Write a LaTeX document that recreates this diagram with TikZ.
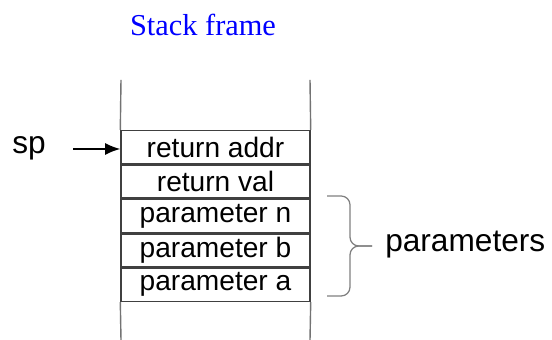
\documentclass[tikz,border=0pt]{standalone}
\usepackage{fontspec}
\setmainfont{Liberation Serif}
\setsansfont{Liberation Sans}
\usepackage{xcolor}
\usetikzlibrary{positioning,arrows.meta}

\tikzset{
  slot/.style={draw=black!75, line width=1pt, rectangle, minimum width=4.725cm,
    minimum height=0.825cm, inner sep=0pt, font=\sffamily\fontsize{20}{24}\selectfont},
  rail/.style={draw=black!55, line width=1pt},
  lbl/.style={font=\sffamily\fontsize{22.5}{27}\selectfont, inner sep=0pt},
  curly/.style={draw=black!50, line width=0.9pt, rounded corners=0.22cm}
}

\begin{document}
\begin{tikzpicture}
      \useasboundingbox (0,0) rectangle (13.8,8.5);

      \coordinate (Top) at (5.3875, 5.25);
      \coordinate (Raill) at (3.025, 6.5);
      \coordinate (Railr) at (7.75, 6.5);
      \coordinate (Raillb) at (3.025, 0);
      \coordinate (Railrb) at (7.75, 0);
      \coordinate (Braces) at (8.175, 3.6);
      \coordinate (Bracee) at (8.175, 1.1);
      \coordinate (Bracem) at (8.75, 2.35);
      \coordinate (Tip) at (9.3, 2.35);

      % title
      \node[font=\fontsize{21.6}{26}\selectfont, text=blue] (title) at (5.075, 7.875) {Stack frame};

      % the frame slots, top down
      \node[slot, anchor=north] (retaddr) at (Top) {return addr};
      \node[slot, below=0pt of retaddr] (retval) {return val};
      \node[slot, below=0pt of retval] (parn) {parameter n};
      \node[slot, below=0pt of parn] (parb) {parameter b};
      \node[slot, below=0pt of parb] (para) {parameter a};

      % stack edges
      \draw[rail] (Raill) -- (retaddr.north west);
      \draw[rail] (Railr) -- (retaddr.north east);
      \draw[rail] (para.south west) -- (Raillb);
      \draw[rail] (para.south east) -- (Railrb);

      % stack pointer
      \node[lbl] (sp) at (0.725, 4.8) {sp};
      \coordinate (Spe) at (1.825, 4.775);
      \draw[-{Latex[length=0.38cm, width=0.3cm]}, line width=1.1pt] (Spe) -- (retaddr.west |- Spe);

      % parameters brace, upper and lower half
      \draw[curly] (Braces) -- (Braces -| Bracem) -- (Bracem) -- (Tip);
      \draw[curly] (Bracee) -- (Bracee -| Bracem) -- (Bracem) -- (Tip);
      \node[lbl, anchor=west] (params) at (9.625, 2.375) {parameters};
    \end{tikzpicture}
\end{document}
